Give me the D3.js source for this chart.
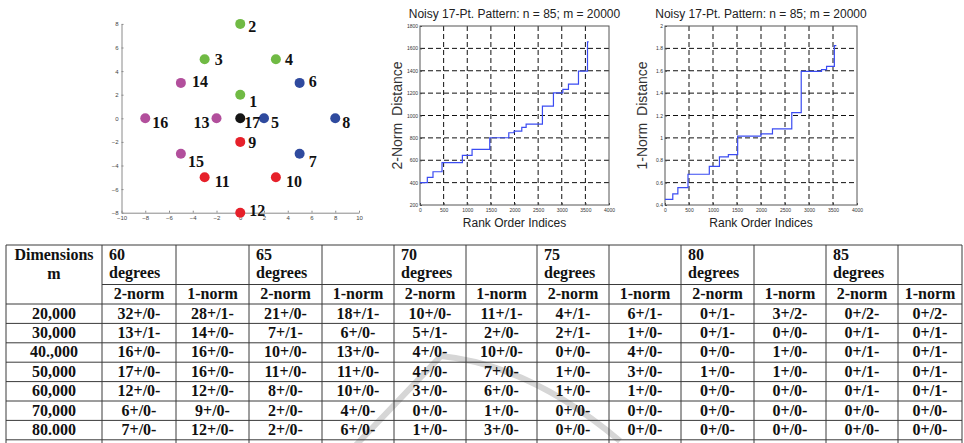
<!DOCTYPE html>
<html>
<head>
<meta charset="utf-8">
<script src="https://cdn.jsdelivr.net/npm/d3@7"></script>
<style>
  body { margin: 0; background: #fff; }
  svg { display: block; }
</style>
</head>
<body>
<svg id="fig" width="964" height="443"></svg>
<script>
// ---- 17 point pattern ----
const pointIds = [1, 2, 3, 4, 5, 6, 7, 8, 9, 10, 11, 12, 13, 14, 15, 16, 17];
const pointX = [0, 0, -3, 3, 2, 5, 5, 8, 0, 3, -3, 0, -2, -5, -5, -8, 0];
const pointY = [2, 8, 5, 5, 0, 3, -3, 0, -2, -5, -5, -8, 0, 3, -3, 0, 0];
const pointGroup = ['g', 'g', 'g', 'g', 'b', 'b', 'b', 'b', 'r', 'r', 'r', 'r', 'm', 'm', 'm', 'm', 'k'];
const scatterXTicks = [-10, -8, -6, -4, -2, 0, 2, 4, 6, 8, 10];
const scatterYTicks = [-8, -6, -4, -2, 0, 2, 4, 6, 8];

// ---- sorted distances (step curves) ----
const chartTitle = 'Noisy 17-Pt. Pattern: n = 85; m = 20000';
const rankTicks = [0, 500, 1000, 1500, 2000, 2500, 3000, 3500, 4000];
const rank2 = [0, 155, 275, 466, 897, 1102, 1476, 1879, 1991, 2154, 2246, 2591, 2824, 3023, 3142, 3354, 3545, 3570];
const dist2 = [400, 447, 497, 578, 643, 697, 801, 846, 861, 894, 923, 1084, 1203, 1233, 1280, 1396, 1658, 1658];
const dist2Ticks = [200, 400, 600, 800, 1000, 1200, 1400, 1600, 1800];
const rank1 = [0, 162, 268, 479, 923, 1134, 1320, 1514, 2000, 2239, 2641, 2838, 3261, 3366, 3528, 3570];
const dist1 = [0.45, 0.50, 0.555, 0.675, 0.745, 0.83, 0.85, 1.015, 1.035, 1.08, 1.225, 1.595, 1.61, 1.64, 1.825, 1.825];
const dist1Ticks = [0.4, 0.6, 0.8, 1, 1.2, 1.4, 1.6, 1.8, 2];

// ---- table ----
const dimensions = ['20,000', '30,000', '40.,000', '50,000', '60,000', '70,000', '80.000'];
const degreeGroups = ['60', '65', '70', '75', '80', '85'];
const normNames = ['2-norm', '1-norm'];
const plusCounts = [
  [32, 28, 21, 18, 10, 11, 4, 6, 0, 3, 0, 0],
  [13, 14, 7, 6, 5, 2, 2, 1, 0, 0, 0, 0],
  [16, 16, 10, 13, 4, 10, 0, 4, 0, 1, 0, 0],
  [17, 16, 11, 11, 4, 7, 1, 3, 1, 1, 0, 0],
  [12, 12, 8, 10, 3, 6, 1, 1, 0, 0, 0, 0],
  [6, 9, 2, 4, 0, 1, 0, 0, 0, 0, 0, 0],
  [7, 12, 2, 6, 1, 3, 0, 0, 0, 0, 0, 0]
];
const minusCounts = [
  [0, 1, 0, 1, 0, 1, 1, 1, 1, 2, 2, 2],
  [1, 0, 1, 0, 1, 0, 1, 0, 1, 0, 1, 1],
  [0, 0, 0, 0, 0, 0, 0, 0, 0, 0, 1, 1],
  [0, 0, 0, 0, 0, 0, 0, 0, 0, 0, 1, 1],
  [0, 0, 0, 0, 0, 0, 0, 0, 0, 0, 1, 1],
  [0, 0, 0, 0, 0, 0, 0, 0, 0, 0, 0, 0],
  [0, 0, 0, 0, 0, 0, 0, 0, 0, 0, 0, 0]
];

const svg = d3.select('#fig');
const sans = 'Liberation Sans, Arial, sans-serif';
const serif = 'Liberation Serif, Times New Roman, serif';

// ================= scatter =================
const groupColor = { g: '#70ba44', b: '#2f4a9e', r: '#e6202a', m: '#b24f9c', k: '#151515' };
// where each number sits next to its dot: [dx, dy, anchor]
const labelOffset = {
  1: [9, 12], 2: [8, 8], 3: [10, 6], 4: [9, 6], 5: [7, 10], 6: [9, 4], 7: [9, 13], 8: [7, 10],
  9: [8, 6], 10: [10, 10], 11: [10, 10], 12: [9, 3], 13: [-7, 10, 'end'], 14: [11, 4],
  15: [7, 13], 16: [7, 10], 17: [4, 10]
};

const sx = d3.scaleLinear().domain([-10, 10]).range([121.5, 359]);
const sy = d3.scaleLinear().domain([-8, 8]).range([212.7, 23.9]);

const sc = svg.append('g');
const styleScatterAxis = g => {
  g.select('.domain').attr('stroke', '#8a8a8a');
  g.selectAll('.tick line').attr('stroke', '#8a8a8a');
  g.selectAll('text').attr('font-size', 6).attr('font-family', sans).attr('fill', '#444');
};
sc.append('g')
  .attr('transform', `translate(0,${sy(-8)})`)
  .call(d3.axisBottom(sx).tickValues(scatterXTicks).tickSizeInner(-2).tickSizeOuter(0).tickPadding(3))
  .call(styleScatterAxis);
sc.append('g')
  .attr('transform', `translate(${sx(-10)},0)`)
  .call(d3.axisLeft(sy).tickValues(scatterYTicks).tickSizeInner(-2).tickSizeOuter(0).tickPadding(3))
  .call(styleScatterAxis);

const pts = pointIds.map((id, i) => ({ id, x: pointX[i], y: pointY[i], grp: pointGroup[i] }));
sc.selectAll('circle.pt').data(pts).join('circle')
  .attr('class', 'pt')
  .attr('cx', d => sx(d.x))
  .attr('cy', d => sy(d.y))
  .attr('r', 5)
  .attr('fill', d => groupColor[d.grp]);
sc.selectAll('text.lbl').data(pts).join('text')
  .attr('class', 'lbl')
  .attr('x', d => sx(d.x) + labelOffset[d.id][0])
  .attr('y', d => sy(d.y) + labelOffset[d.id][1])
  .attr('text-anchor', d => labelOffset[d.id][2] || 'start')
  .attr('font-family', serif)
  .attr('font-weight', 'bold')
  .attr('font-size', 16)
  .attr('fill', '#111')
  .text(d => d.id);

// ================= step charts =================
function stepChart(left, right, ranks, dists, yDomain, yTicks, yLabel) {
  const top = 26, bottom = 205;
  const x = d3.scaleLinear().domain([0, 4000]).range([left, right]);
  const y = d3.scaleLinear().domain(yDomain).range([bottom, top]);
  const g = svg.append('g');

  // dashed grid
  g.append('g').selectAll('line').data(rankTicks.slice(1, -1)).join('line')
    .attr('x1', d => x(d)).attr('x2', d => x(d)).attr('y1', top).attr('y2', bottom)
    .attr('stroke', '#111').attr('stroke-dasharray', '5,3');
  g.append('g').selectAll('line').data(yTicks.slice(1, -1)).join('line')
    .attr('y1', d => y(d)).attr('y2', d => y(d)).attr('x1', left).attr('x2', right)
    .attr('stroke', '#111').attr('stroke-dasharray', '5,3');

  const styleAxis = a => {
    a.select('.domain').remove();
    a.selectAll('.tick line').attr('stroke', '#444');
    a.selectAll('text').attr('font-size', 5).attr('font-family', sans).attr('fill', '#333');
  };
  g.append('g').attr('transform', `translate(0,${bottom})`)
    .call(d3.axisBottom(x).tickValues(rankTicks).tickSizeInner(-2).tickSizeOuter(0).tickPadding(3).tickFormat(d3.format('d')))
    .call(styleAxis);
  g.append('g').attr('transform', `translate(${left},0)`)
    .call(d3.axisLeft(y).tickValues(yTicks).tickSizeInner(-2).tickSizeOuter(0).tickPadding(2).tickFormat(d3.format('~g')))
    .call(styleAxis);

  g.append('rect')
    .attr('x', left).attr('y', top).attr('width', right - left).attr('height', bottom - top)
    .attr('fill', 'none').attr('stroke', '#555').attr('stroke-width', 1);

  const line = d3.line().curve(d3.curveStepAfter).x(d => x(d[0])).y(d => y(d[1]));
  g.append('path')
    .datum(ranks.map((r, i) => [r, dists[i]]))
    .attr('d', line)
    .attr('fill', 'none')
    .attr('stroke', '#3b4cf2')
    .attr('stroke-width', 1.2);

  g.append('text')
    .attr('x', (left + right) / 2).attr('y', 18)
    .attr('text-anchor', 'middle')
    .attr('font-family', sans).attr('font-size', 12).attr('fill', '#222')
    .text(chartTitle);
  g.append('text')
    .attr('x', (left + right) / 2).attr('y', 227)
    .attr('text-anchor', 'middle')
    .attr('font-family', sans).attr('font-size', 12).attr('fill', '#222')
    .text('Rank Order Indices');
  g.append('text')
    .attr('transform', `translate(${left - 18},${(top + bottom) / 2}) rotate(-90)`)
    .attr('text-anchor', 'middle')
    .attr('font-family', sans).attr('font-size', 14).attr('fill', '#333')
    .attr('word-spacing', 3)
    .text(yLabel);
}

stepChart(420, 609, rank2, dist2, [200, 1800], dist2Ticks, '2-Norm Distance');
stepChart(665, 857, rank1, dist1, [0.4, 2], dist1Ticks, '1-Norm Distance');

// ================= table =================
const colEdges = [6, 102, 176, 249, 322, 394, 466, 537, 609, 681, 754, 826, 898, 962];
const tableTop = 245, headMid = 284.5, headBottom = 304, rowH = 19.4;
const tb = svg.append('g').attr('font-family', serif).attr('font-weight', 'bold').attr('font-size', 16).attr('fill', '#111');

// watermark arc behind the text
tb.append('path')
  .attr('d', 'M356,445 L441,356 Q530,365 620,441')
  .attr('fill', 'none').attr('stroke', '#d6d6d6').attr('stroke-width', 6);

const rowTops = d3.range(dimensions.length + 1).map(i => headBottom + i * rowH);
const lineCol = '#3a3a3a';
// horizontal rules
tb.append('line').attr('x1', colEdges[0]).attr('x2', colEdges[colEdges.length - 1])
  .attr('y1', tableTop).attr('y2', tableTop).attr('stroke', lineCol);
tb.append('line').attr('x1', colEdges[1]).attr('x2', colEdges[colEdges.length - 1])
  .attr('y1', headMid).attr('y2', headMid).attr('stroke', lineCol);
tb.selectAll('line.row').data(rowTops).join('line').attr('class', 'row')
  .attr('x1', colEdges[0]).attr('x2', colEdges[colEdges.length - 1])
  .attr('y1', d => d).attr('y2', d => d).attr('stroke', lineCol);
// vertical rules
tb.selectAll('line.col').data(colEdges).join('line').attr('class', 'col')
  .attr('x1', d => d).attr('x2', d => d).attr('y1', tableTop).attr('y2', 443)
  .attr('stroke', lineCol);

const cx = i => (colEdges[i] + colEdges[i + 1]) / 2;
tb.append('text').attr('x', cx(0)).attr('y', 260).attr('text-anchor', 'middle').text('Dimensions');
tb.append('text').attr('x', cx(0)).attr('y', 279).attr('text-anchor', 'middle').text('m');
degreeGroups.forEach((deg, k) => {
  const x0 = colEdges[1 + 2 * k] + 7;
  tb.append('text').attr('x', x0).attr('y', 260).text(deg);
  tb.append('text').attr('x', x0).attr('y', 278).text('degrees');
  normNames.forEach((nm, j) => {
    tb.append('text').attr('x', cx(1 + 2 * k + j)).attr('y', 299).attr('text-anchor', 'middle').text(nm);
  });
});
dimensions.forEach((dim, r) => {
  const yb = rowTops[r] + 14.5;
  tb.append('text').attr('x', cx(0)).attr('y', yb).attr('text-anchor', 'middle').text(dim);
  plusCounts[r].forEach((p, c) => {
    tb.append('text').attr('x', cx(c + 1)).attr('y', yb).attr('text-anchor', 'middle')
      .text(`${p}+/${minusCounts[r][c]}-`);
  });
});
</script>
</body>
</html>
